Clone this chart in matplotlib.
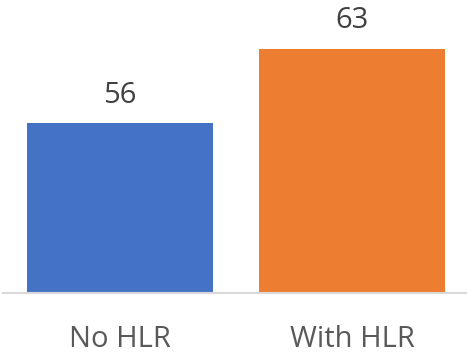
import matplotlib
matplotlib.use('Agg')
import matplotlib.pyplot as plt

categories = ["No HLR", "With HLR"]
values = [56, 63]
colors = ["#4472C4", "#ED7D31"]

plt.rcParams['font.family'] = ['Open Sans', 'DejaVu Sans']

fig = plt.figure(figsize=(4.67, 3.54), dpi=100)
ax = fig.add_axes([3 / 467, 61 / 354, 464 / 467, 293 / 354])

x = list(range(len(categories)))
ax.bar(x, values, width=0.8, color=colors, bottom=0)
ax.set_xlim(-0.505, 1.495)
ax.set_ylim(40, 40 + 293 / 10.6)

for xi, v in zip(x, values):
    ax.annotate(str(v), (xi, v), xytext=(0, 15), textcoords='offset points',
                ha='center', va='baseline', fontsize=21, color='#404040')

ax.set_xticks(x)
ax.set_xticklabels(categories, fontsize=21, color='#595959')
ax.tick_params(axis='x', length=0, pad=23)
ax.set_yticks([])
for side in ['left', 'right', 'top']:
    ax.spines[side].set_visible(False)
ax.spines['bottom'].set_color('#D9D9D9')
ax.spines['bottom'].set_linewidth(1.5)

fig.savefig('out.png', dpi=100)
